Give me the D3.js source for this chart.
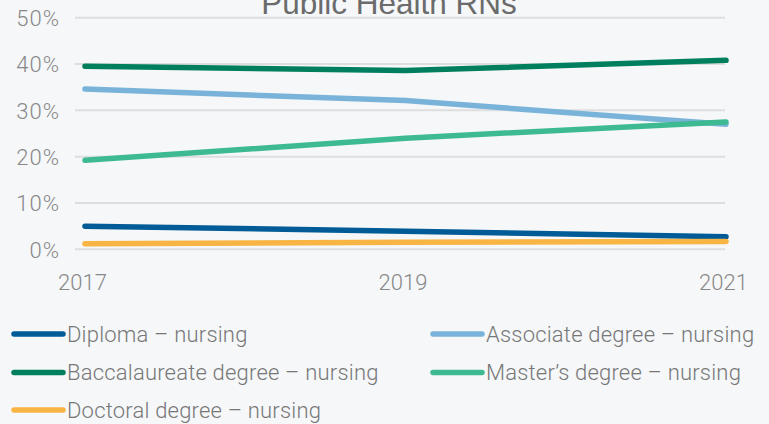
<!DOCTYPE html>
<html><head><meta charset="utf-8">
<script src="https://cdn.jsdelivr.net/npm/d3@7"></script>
<style>
html,body{margin:0;padding:0;background:#f5f7f9;}
svg{display:block;}
</style></head>
<body>
<svg id="c" width="769" height="424"></svg>
<script>
const title = "Public Health RNs";
const years = ["2017", "2019", "2021"];
const yTicks = [0, 10, 20, 30, 40, 50];
const seriesNames = ["Diploma – nursing", "Associate degree – nursing", "Baccalaureate degree – nursing", "Master’s degree – nursing", "Doctoral degree – nursing"];
const seriesColors = ["#005b96", "#7ab3d9", "#007f5f", "#3dba92", "#f8b544"];
const diploma = [5.0, 3.9, 2.7];
const associate = [34.6, 32.1, 27.0];
const baccalaureate = [39.5, 38.6, 40.8];
const masters = [19.2, 24.0, 27.5];
const doctoral = [1.2, 1.5, 1.7];
const seriesValues = [diploma, associate, baccalaureate, masters, doctoral];

const svg = d3.select("#c");
svg.append("rect").attr("width", 769).attr("height", 424).attr("fill", "#f5f7f9");

const x = d3.scalePoint().domain(years).range([85, 726]);
const y = d3.scaleLinear().domain([0, 50]).range([249.3, 17.7]);

// gridlines
svg.append("g").selectAll("line").data(yTicks).join("line")
  .attr("x1", 75).attr("x2", 725)
  .attr("y1", d => y(d)).attr("y2", d => y(d))
  .attr("stroke", "#dedede").attr("stroke-width", 2);

// title
svg.append("text").attr("x", 389).attr("y", 14).attr("text-anchor", "middle")
  .attr("font-family", "Liberation Sans, Arial, sans-serif").attr("font-size", 31.5)
  .attr("fill", "#6b6b6b").text(title);

const tickFont = "Roboto, sans-serif";
const fs = 22;
// y axis
const yAxis = d3.axisLeft(y).tickValues(yTicks).tickFormat(d => d + "%").tickSize(0).tickPadding(0);
const gy = svg.append("g").attr("transform", "translate(60,0)").call(yAxis);
gy.select(".domain").remove();
gy.selectAll("text").attr("font-family", tickFont).attr("font-weight", 300)
  .attr("font-size", fs).attr("letter-spacing", 1).attr("fill", "#888").attr("dy", "0.36em");

// x axis
const xAxis = d3.axisBottom(x).tickSize(0).tickPadding(0);
const gx = svg.append("g").attr("transform", "translate(-3,0)").call(xAxis);
gx.select(".domain").remove();
gx.selectAll("text").attr("font-family", tickFont).attr("font-weight", 300)
  .attr("font-size", fs).attr("fill", "#888").attr("y", 290).attr("dy", 0);

// lines
const line = d3.line().x((d, i) => x(years[i])).y(d => y(d));
svg.append("g").selectAll("path").data(seriesValues).join("path")
  .attr("d", d => line(d)).attr("fill", "none")
  .attr("stroke", (d, i) => seriesColors[i]).attr("stroke-width", 5.5)
  .attr("stroke-linecap", "round").attr("stroke-linejoin", "round");

// legend
const lg = svg.append("g");
const colX = [12, 431];
const rowY = [334, 372.5, 410];
seriesNames.forEach((name, i) => {
  const cx = colX[i % 2], cy = rowY[Math.floor(i / 2)];
  lg.append("line").attr("x1", cx + 2).attr("x2", cx + 51).attr("y1", cy).attr("y2", cy)
    .attr("stroke", seriesColors[i]).attr("stroke-width", 5.5).attr("stroke-linecap", "round");
  lg.append("text").attr("x", cx + 55).attr("y", cy).attr("dy", "0.36em")
    .attr("font-family", tickFont).attr("font-weight", 300).attr("font-size", fs)
    .attr("letter-spacing", 0.2).attr("fill", "#777").text(name);
});
</script>
</body></html>
